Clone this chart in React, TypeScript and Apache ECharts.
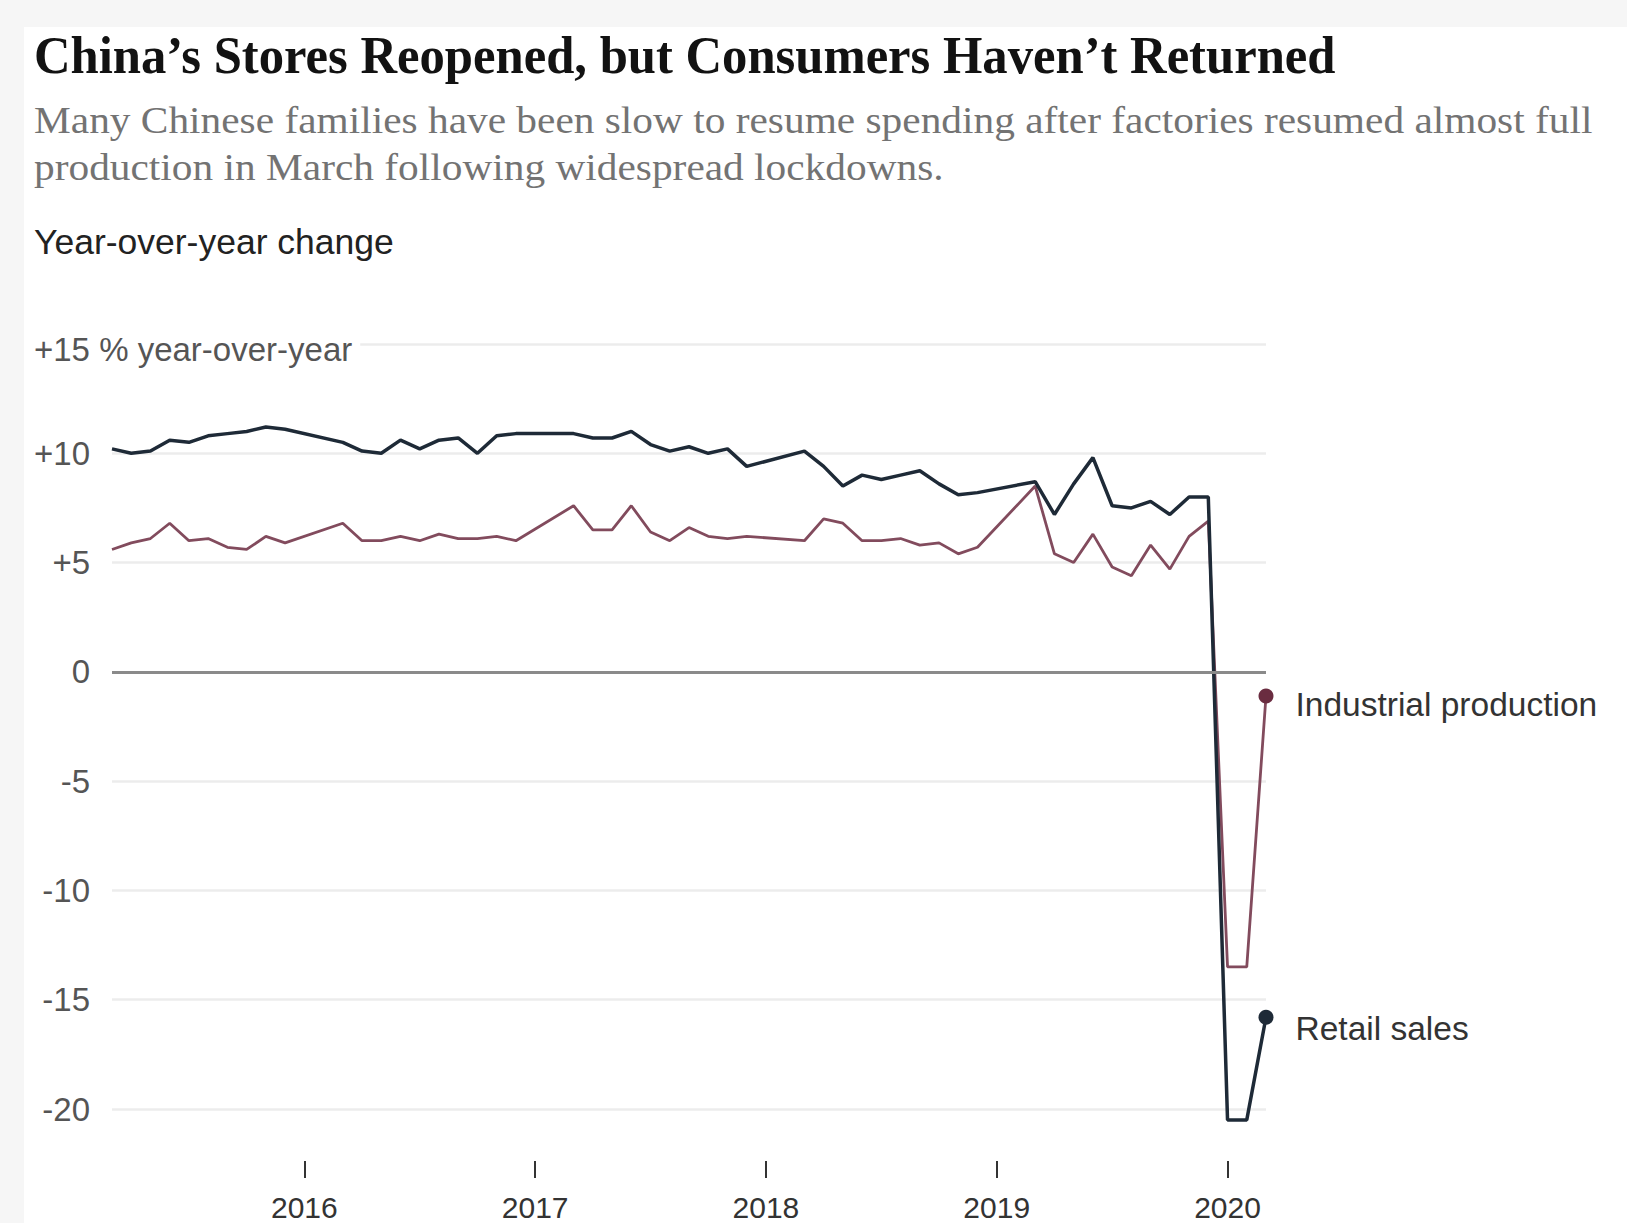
import React, { useEffect, useRef } from "react";
import * as echarts from "echarts";

// ---- Data (year-over-year % change) ----
const months: string[] = [
  "2015-03", "2015-04", "2015-05", "2015-06", "2015-07", "2015-08", "2015-09", "2015-10", "2015-11", "2015-12",
  "2016-03", "2016-04", "2016-05", "2016-06", "2016-07", "2016-08", "2016-09", "2016-10", "2016-11", "2016-12",
  "2017-03", "2017-04", "2017-05", "2017-06", "2017-07", "2017-08", "2017-09", "2017-10", "2017-11", "2017-12",
  "2018-03", "2018-04", "2018-05", "2018-06", "2018-07", "2018-08", "2018-09", "2018-10", "2018-11", "2018-12",
  "2019-03", "2019-04", "2019-05", "2019-06", "2019-07", "2019-08", "2019-09", "2019-10", "2019-11", "2019-12",
  "2020-01", "2020-02", "2020-03",
];

const retailSales: number[] = [
  10.2, 10.0, 10.1, 10.6, 10.5, 10.8, 10.9, 11.0, 11.2, 11.1,
  10.5, 10.1, 10.0, 10.6, 10.2, 10.6, 10.7, 10.0, 10.8, 10.9,
  10.9, 10.7, 10.7, 11.0, 10.4, 10.1, 10.3, 10.0, 10.2, 9.4,
  10.1, 9.4, 8.5, 9.0, 8.8, 9.0, 9.2, 8.6, 8.1, 8.2,
  8.7, 7.2, 8.6, 9.8, 7.6, 7.5, 7.8, 7.2, 8.0, 8.0,
  -20.5, -20.5, -15.8,
];

const industrialProduction: number[] = [
  5.6, 5.9, 6.1, 6.8, 6.0, 6.1, 5.7, 5.6, 6.2, 5.9,
  6.8, 6.0, 6.0, 6.2, 6.0, 6.3, 6.1, 6.1, 6.2, 6.0,
  7.6, 6.5, 6.5, 7.6, 6.4, 6.0, 6.6, 6.2, 6.1, 6.2,
  6.0, 7.0, 6.8, 6.0, 6.0, 6.1, 5.8, 5.9, 5.4, 5.7,
  8.5, 5.4, 5.0, 6.3, 4.8, 4.4, 5.8, 4.7, 6.2, 6.9,
  -13.5, -13.5, -1.1,
];

const yearTicks: number[] = [2016, 2017, 2018, 2019, 2020];
const yTickValues: number[] = [-20, -15, -10, -5, 0, 5, 10, 15];
const yTickLabels: string[] = ["-20", "-15", "-10", "-5", "0", "+5", "+10", "+15 % year-over-year"];

const seriesNames = { retail: "Retail sales", industrial: "Industrial production" };

const titleText = "China\u2019s Stores Reopened, but Consumers Haven\u2019t Returned";
const subtitleLines = [
  "Many Chinese families have been slow to resume spending after factories resumed almost full",
  "production in March following widespread lockdowns.",
];
const unitText = "Year-over-year change";

// month string -> decimal year
const toX = (m: string) => {
  const [y, mo] = m.split("-").map(Number);
  return y + (mo - 1) / 12;
};

const SANS = '"Liberation Sans", Arial, sans-serif';
const SERIF = '"Liberation Serif", "Times New Roman", serif';

export default function App() {
  const ref = useRef<HTMLDivElement>(null);

  useEffect(() => {
    if (!ref.current) return;
    const chart = echarts.init(ref.current, undefined, { renderer: "svg" });

    const xs = months.map(toX);
    const retailData = xs.map((x, i) => [x, retailSales[i]]);
    const indData = xs.map((x, i) => [x, industrialProduction[i]]);
    const last = xs.length - 1;

    const retailColor = "#1e2a37";
    const indColor = "#824b5d";
    const indDot = "#6a2c40";

    const option: any = {
      animation: false,
      backgroundColor: "#ffffff",
      grid: { left: 112, right: 361, top: 344, bottom: 114, containLabel: false },
      xAxis: {
        type: "value",
        min: toX(months[0]),
        max: toX(months[last]),
        offset: 52,
        axisLine: { show: false, onZero: false },
        splitLine: { show: false },
        axisTick: {
          show: true,
          customValues: yearTicks,
          length: 17,
          lineStyle: { color: "#333", width: 2 },
        },
        axisLabel: {
          customValues: yearTicks,
          formatter: (v: number) => String(Math.round(v)),
          margin: 31,
          fontSize: 30,
          lineHeight: 30,
          color: "#333",
          fontFamily: SANS,
        },
      },
      yAxis: {
        type: "value",
        min: -20,
        max: 15,
        interval: 5,
        axisLine: { show: false },
        axisTick: { show: false },
        splitLine: { show: true, lineStyle: { color: "#ececec", width: 2.5 } },
        axisLabel: {
          margin: 22,
          fontSize: 33,
          color: "#555",
          fontFamily: SANS,
          padding: [14, 0, 0, 0],
          formatter: (v: number) => {
            const i = yTickValues.indexOf(v);
            if (i === yTickValues.length - 1) return "";
            return i >= 0 ? yTickLabels[i] : "";
          },
        },
      },
      graphic: [
        { type: "rect", z: 0, shape: { x: 0, y: 0, width: 1627, height: 27 }, style: { fill: "#f6f6f6" } },
        { type: "rect", z: 0, shape: { x: 0, y: 0, width: 24, height: 1223 }, style: { fill: "#f6f6f6" } },
        {
          type: "text",
          x: 34,
          y: 55,
          scaleX: 0.956,
          style: {
            text: titleText,
            font: `bold 53px ${SERIF}`,
            fill: "#121212",
            textAlign: "left",
            textVerticalAlign: "middle",
          },
        },
        {
          type: "text",
          x: 34,
          y: 120,
          scaleX: 1.118,
          style: {
            text: subtitleLines[0],
            font: `37px ${SERIF}`,
            fill: "#737373",
            textAlign: "left",
            textVerticalAlign: "middle",
          },
        },
        {
          type: "text",
          x: 34,
          y: 167,
          scaleX: 1.118,
          style: {
            text: subtitleLines[1],
            font: `37px ${SERIF}`,
            fill: "#737373",
            textAlign: "left",
            textVerticalAlign: "middle",
          },
        },
        {
          type: "text",
          x: 34,
          y: 242,
          style: {
            text: unitText,
            font: `35.5px ${SANS}`,
            fill: "#222",
            textAlign: "left",
            textVerticalAlign: "middle",
          },
        },
        {
          type: "text",
          x: 34,
          y: 349,
          z: 50,
          style: {
            text: yTickLabels[yTickLabels.length - 1],
            font: `33px ${SANS}`,
            fill: "#555",
            backgroundColor: "#ffffff",
            padding: [6, 8, 6, 0],
            textAlign: "left",
            textVerticalAlign: "middle",
          },
        },
      ],
      series: [
        {
          type: "line",
          name: "zero",
          data: [],
          z: 1,
          silent: true,
          markLine: {
            silent: true,
            symbol: "none",
            label: { show: false },
            lineStyle: { color: "#8a8a8a", width: 3, type: "solid" },
            data: [{ yAxis: 0 }],
          },
        },
        {
          type: "line",
          name: seriesNames.industrial,
          data: indData,
          symbol: "none",
          showSymbol: false,
          clip: false,
          z: 3,
          lineStyle: { color: indColor, width: 2.8 },
          itemStyle: { color: indColor },
          markPoint: {
            symbol: "circle",
            symbolSize: 15,
            itemStyle: { color: indDot },
            label: {
              show: true,
              position: "right",
              distance: 22,
              offset: [0, 9],
              formatter: seriesNames.industrial,
              color: "#333",
              fontSize: 33.5,
              fontFamily: SANS,
            },
            data: [{ coord: indData[last] }],
          },
        },
        {
          type: "line",
          name: seriesNames.retail,
          data: retailData,
          symbol: "none",
          showSymbol: false,
          clip: false,
          z: 4,
          lineStyle: { color: retailColor, width: 3.5 },
          itemStyle: { color: retailColor },
          markPoint: {
            symbol: "circle",
            symbolSize: 15,
            itemStyle: { color: retailColor },
            label: {
              show: true,
              position: "right",
              distance: 22,
              offset: [0, 11],
              formatter: seriesNames.retail,
              color: "#333",
              fontSize: 33.5,
              fontFamily: SANS,
            },
            data: [{ coord: retailData[last] }],
          },
        },
      ],
    };

    chart.setOption(option);
    return () => chart.dispose();
  }, []);

  return (
    <div
      ref={ref}
      style={{ position: "fixed", left: 0, top: 0, width: 1627, height: 1223, background: "#fff" }}
    />
  );
}
